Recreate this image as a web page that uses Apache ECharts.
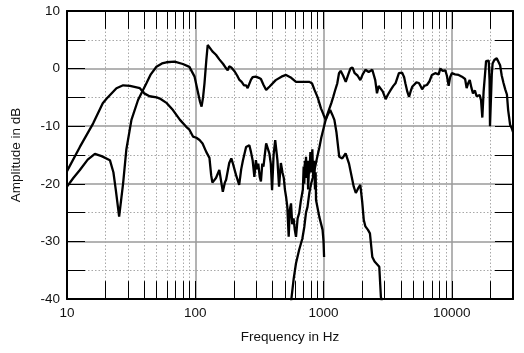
<!DOCTYPE html>
<html>
<head>
<meta charset="utf-8">
<script src="https://cdn.jsdelivr.net/npm/echarts@6/dist/echarts.min.js"></script>
<style>
  html, body { margin: 0; padding: 0; background: #fff; }
  #chart { width: 524px; height: 353px; }
</style>
</head>
<body>
<div id="chart"></div>
<script>
// tick labels / grid positions
var labelFreqs = [10, 100, 1000, 10000];
var minorFreqs = [20, 30, 40, 50, 60, 70, 80, 90,
  200, 300, 400, 500, 600, 700, 800, 900,
  2000, 3000, 4000, 5000, 6000, 7000, 8000, 9000, 20000];

// curve A: low-frequency response falling into the midrange
var freqA = [10, 12.6, 16, 19, 20.4, 24.3, 27.4, 31, 37, 40, 44, 50, 53, 60, 67, 76, 85, 90, 96, 102, 108, 114,
  122, 129, 133, 136, 145, 154, 164, 170, 174, 184, 191, 196, 203, 208, 220, 228, 235, 249, 264, 272, 280, 289,
  297, 304, 310, 318, 325, 333, 340, 357, 378, 388, 397, 408, 420, 437, 450, 465, 478, 490, 500, 510, 522, 535,
  546, 558, 570, 584, 597, 610, 628, 646, 665, 684, 690, 700, 708, 716, 722, 730, 740, 752, 758, 770, 776, 790,
  805, 818, 824, 830, 845, 858, 868, 874, 900, 926, 955, 983, 1000, 1010];
var dbA = [-17.8, -13.6, -9.5, -6.0, -5.2, -3.4, -2.9, -3.0, -3.4, -4.3, -4.8, -5.0, -5.2, -6.0, -7.2, -8.9, -10.1, -10.6, -11.8, -12.0, -12.4, -13.0,
  -14.5, -15.5, -18.5, -19.8, -19.0, -17.6, -21.4, -19.8, -19.3, -16.4, -15.6, -16.4, -16.7, -18.5, -20.2, -17.5, -16.0, -13.6, -13.3, -14.5, -15.9, -18.8,
  -15.9, -17.5, -16.5, -18.8, -19.6, -16.5, -17.0, -13.0, -14.7, -16.5, -21.1, -15.0, -12.4, -15.9, -20.5, -16.4, -18.0, -19.0, -21.0, -22.2, -24.0, -29.2,
  -24.5, -23.4, -27.0, -26.0, -28.0, -29.2, -26.0, -25.1, -23.0, -22.8, -21.0, -17.0, -20.0, -16.0, -19.0, -15.3, -19.0, -16.0, -21.0, -17.5, -18.2, -14.5,
  -18.0, -14.0, -14.1, -19.0, -16.0, -21.0, -18.0, -22.8, -23.0, -25.7, -26.0, -28.0, -30.0, -32.7];

// curve B: woofer/midrange with the 25 Hz notch
var freqB = [10, 11.2, 12.6, 14.5, 16.5, 18.6, 21.6, 23, 24, 25.5, 27.4, 29, 31.8, 35.8, 41.6, 45, 49.8, 55, 59.6, 69, 80, 90,
  98.8, 104, 109, 112, 115, 118, 122, 125, 130, 136, 145, 154, 165, 174, 179, 184, 191, 203, 212, 220, 230, 240, 249,
  256, 264, 272, 280, 297, 313, 325, 340, 357, 380, 424, 470, 510, 560, 610, 700, 776, 815, 850, 900, 955, 1000, 1040,
  1080, 1127, 1170, 1215, 1260, 1325, 1400, 1486, 1580, 1720, 1785, 1860, 1935, 2000, 2060, 2120, 2220, 2300, 2400,
  2500, 2720, 2800, 2850];
var dbB = [-20.5, -19.0, -17.6, -15.8, -14.8, -15.2, -15.9, -18.0, -21.0, -25.7, -19.9, -14.1, -8.9, -5.45, -2.55, -1.0, 0.33, 0.9, 1.1, 1.2, 0.8, 0.3,
  -1.4, -3.7, -5.8, -6.6, -5.0, -2.55, 1.5, 4.1, 3.6, 3.0, 2.4, 1.6, 0.8, 0.05, -0.3, 0.4, 0.2, -0.5, -1.2, -1.9, -2.3, -2.9, -2.9,
  -3.4, -3.3, -1.9, -1.5, -1.4, -1.6, -1.8, -2.8, -3.7, -3.1, -2.0, -1.4, -1.1, -1.6, -2.3, -2.3, -2.3, -2.6, -3.7, -5.0, -6.9, -8.0, -8.9,
  -8.0, -7.2, -8.0, -8.9, -11.0, -15.3, -15.6, -14.7, -16.5, -20.5, -21.6, -20.8, -20.2, -23.0, -26.3, -27.4, -28.0, -28.6, -32.7,
  -33.5, -34.4, -39.6, -40.5];

// curve C: tweeter
var freqC = [558, 585, 610, 645, 684, 708, 730, 750, 776, 800, 824, 850, 880, 926, 960, 1010, 1050, 1100, 1150, 1190, 1230,
  1280, 1320, 1360, 1420, 1490, 1560, 1620, 1680, 1750, 1840, 1935, 2020, 2120, 2250, 2400, 2450, 2530, 2610, 2690, 2770,
  2900, 3050, 3180, 3340, 3500, 3640, 3870, 4100, 4250, 4350, 4500, 4640, 4800, 4930, 5070, 5300, 5540, 5700, 5870, 6100,
  6400, 6700, 7000, 7250, 7420, 7660, 7900, 8130, 8500, 8900, 9150, 9450, 9700, 10000, 10600, 11300, 12000, 12700, 13050,
  13440, 13800, 14250, 14630, 15150, 15600, 16100, 16500, 16900, 17300, 17700, 18150, 18500, 18900, 19400, 19700, 19850,
  20200, 20500, 20800, 21450, 22400, 23000, 23800, 24500, 25300, 26100, 26900, 27500, 28000, 28500, 29300, 30000];
var dbC = [-40.5, -36.5, -33.8, -31.5, -29.5, -27.5, -25.0, -24.0, -21.5, -20.0, -19.0, -17.6, -16.0, -13.8, -12.0, -10.0, -8.5, -7.2, -6.0, -4.9, -3.8,
  -2.55, -0.8, -0.4, -1.2, -2.3, -1.0, 0.0, 0.2, -0.8, -1.2, -2.0, -1.0, -0.2, -0.6, -0.2, 0.1, -2.0, -4.3, -3.0, -2.85,
  -4.0, -5.3, -4.5, -3.7, -3.0, -2.55, -0.8, -0.7, -1.5, -2.6, -4.0, -4.9, -3.8, -3.1, -2.8, -2.4, -2.5, -3.0, -3.6, -3.0,
  -2.85, -2.2, -1.1, -1.4, -0.8, -0.5, -1.0, 0.0, -0.4, -0.3, -1.2, -3.0, -1.5, -0.8, -1.0, -1.1, -1.4, -1.8, -3.4,
  -2.5, -2.0, -3.4, -4.3, -3.8, -4.8, -5.0, -4.6, -5.5, -8.5, -4.0, -1.0, 1.3, 1.6, 1.4, -2.0, -10.0,
  -10.0, -1.0, 0.9, 1.5, 1.8, 1.6, 0.6, -1.2, -2.5, -3.6, -4.5, -7.2, -8.5, -9.8, -10.3, -11.0];

function pairs(fs, ds) {
  var out = [];
  for (var i = 0; i < fs.length; i++) {
    out.push([fs[i], ds[i]]);
  }
  return out;
}

var chart = echarts.init(document.getElementById("chart"));

var font = "'Liberation Sans', Arial, Helvetica, sans-serif";
var gridGray = "#9a9a9a";

function curve(data) {
  return {
    type: "line",
    data: data,
    symbol: "none",
    silent: true,
    z: 5,
    clip: true,
    lineStyle: { color: "#000", width: 2.3 },
  };
}

var minorTickSegs = [];
minorFreqs.forEach(function (f) {
  minorTickSegs.push([{ coord: [f, -40] }, { coord: [f, -36.9] }]);
  minorTickSegs.push([{ coord: [f, 10] }, { coord: [f, 6.9] }]);
});

var option = {
  animation: false,
  backgroundColor: "#fff",
  textStyle: { fontFamily: font },
  grid: { left: 67, right: 11, top: 11, bottom: 54 },
  xAxis: [
    {
      type: "log",
      logBase: 10,
      min: 10,
      max: 30000,
      name: "Frequency in Hz",
      nameLocation: "middle",
      nameGap: 31,
      nameTextStyle: { fontSize: 13.5, color: "#111", fontFamily: font },
      axisLine: { onZero: false, lineStyle: { color: "#000", width: 2 } },
      axisTick: { inside: true, length: 18, lineStyle: { color: "#000", width: 1 } },
      axisLabel: {
        margin: 7,
        fontSize: 13.5,
        color: "#111",
        fontFamily: font,
        showMaxLabel: false,
        formatter: function (v) {
          for (var i = 0; i < labelFreqs.length; i++) {
            if (Math.abs(v - labelFreqs[i]) / labelFreqs[i] < 1e-6) return String(labelFreqs[i]);
          }
          return "";
        },
      },
      splitLine: { show: true, lineStyle: { color: gridGray, width: 1.5 } },
    },
    {
      type: "log",
      logBase: 10,
      min: 10,
      max: 30000,
      position: "top",
      axisLine: { onZero: false, lineStyle: { color: "#000", width: 2 } },
      axisTick: { inside: true, length: 18, lineStyle: { color: "#000", width: 1 } },
      axisLabel: { show: false },
      splitLine: { show: false },
    },
  ],
  yAxis: [
    {
      type: "value",
      min: -40,
      max: 10,
      interval: 10,
      name: "Amplitude in dB",
      nameLocation: "middle",
      nameGap: 44,
      nameTextStyle: { fontSize: 13.5, color: "#111", fontFamily: font },
      axisLine: { onZero: false, lineStyle: { color: "#000", width: 2 } },
      axisTick: { inside: true, length: 18, lineStyle: { color: "#000", width: 1 } },
      minorTick: { show: true, splitNumber: 2, length: 18, lineStyle: { color: "#000", width: 1 } },
      axisLabel: { margin: 7, fontSize: 13.5, color: "#111", fontFamily: font },
      splitLine: { show: true, lineStyle: { color: gridGray, width: 1.5 } },
      minorSplitLine: { show: true, lineStyle: { color: "#a8a8a8", width: 1, type: [1.5, 2] } },
    },
    {
      type: "value",
      min: -40,
      max: 10,
      interval: 10,
      position: "right",
      axisLine: { onZero: false, lineStyle: { color: "#000", width: 2 } },
      axisTick: { inside: true, length: 18, lineStyle: { color: "#000", width: 1 } },
      minorTick: { show: true, splitNumber: 2, length: 18, lineStyle: { color: "#000", width: 1 } },
      axisLabel: { show: false },
      splitLine: { show: false },
    },
  ],
  series: [
    {
      // dotted minor grid and short minor ticks
      type: "line",
      data: [],
      silent: true,
      z: 1,
      markLine: {
        silent: true,
        symbol: ["none", "none"],
        label: { show: false },
        animation: false,
        lineStyle: { color: "#a8a8a8", width: 1, type: [1.5, 2] },
        data: minorFreqs.map(function (f) { return { xAxis: f }; }),
      },
    },
    {
      type: "line",
      data: [],
      silent: true,
      z: 2,
      markLine: {
        silent: true,
        symbol: ["none", "none"],
        label: { show: false },
        animation: false,
        lineStyle: { color: "#000", width: 1, type: "solid" },
        data: minorTickSegs,
      },
    },
    curve(pairs(freqA, dbA)),
    curve(pairs(freqB, dbB)),
    curve(pairs(freqC, dbC)),
  ],
};

chart.setOption(option);
</script>
</body>
</html>
